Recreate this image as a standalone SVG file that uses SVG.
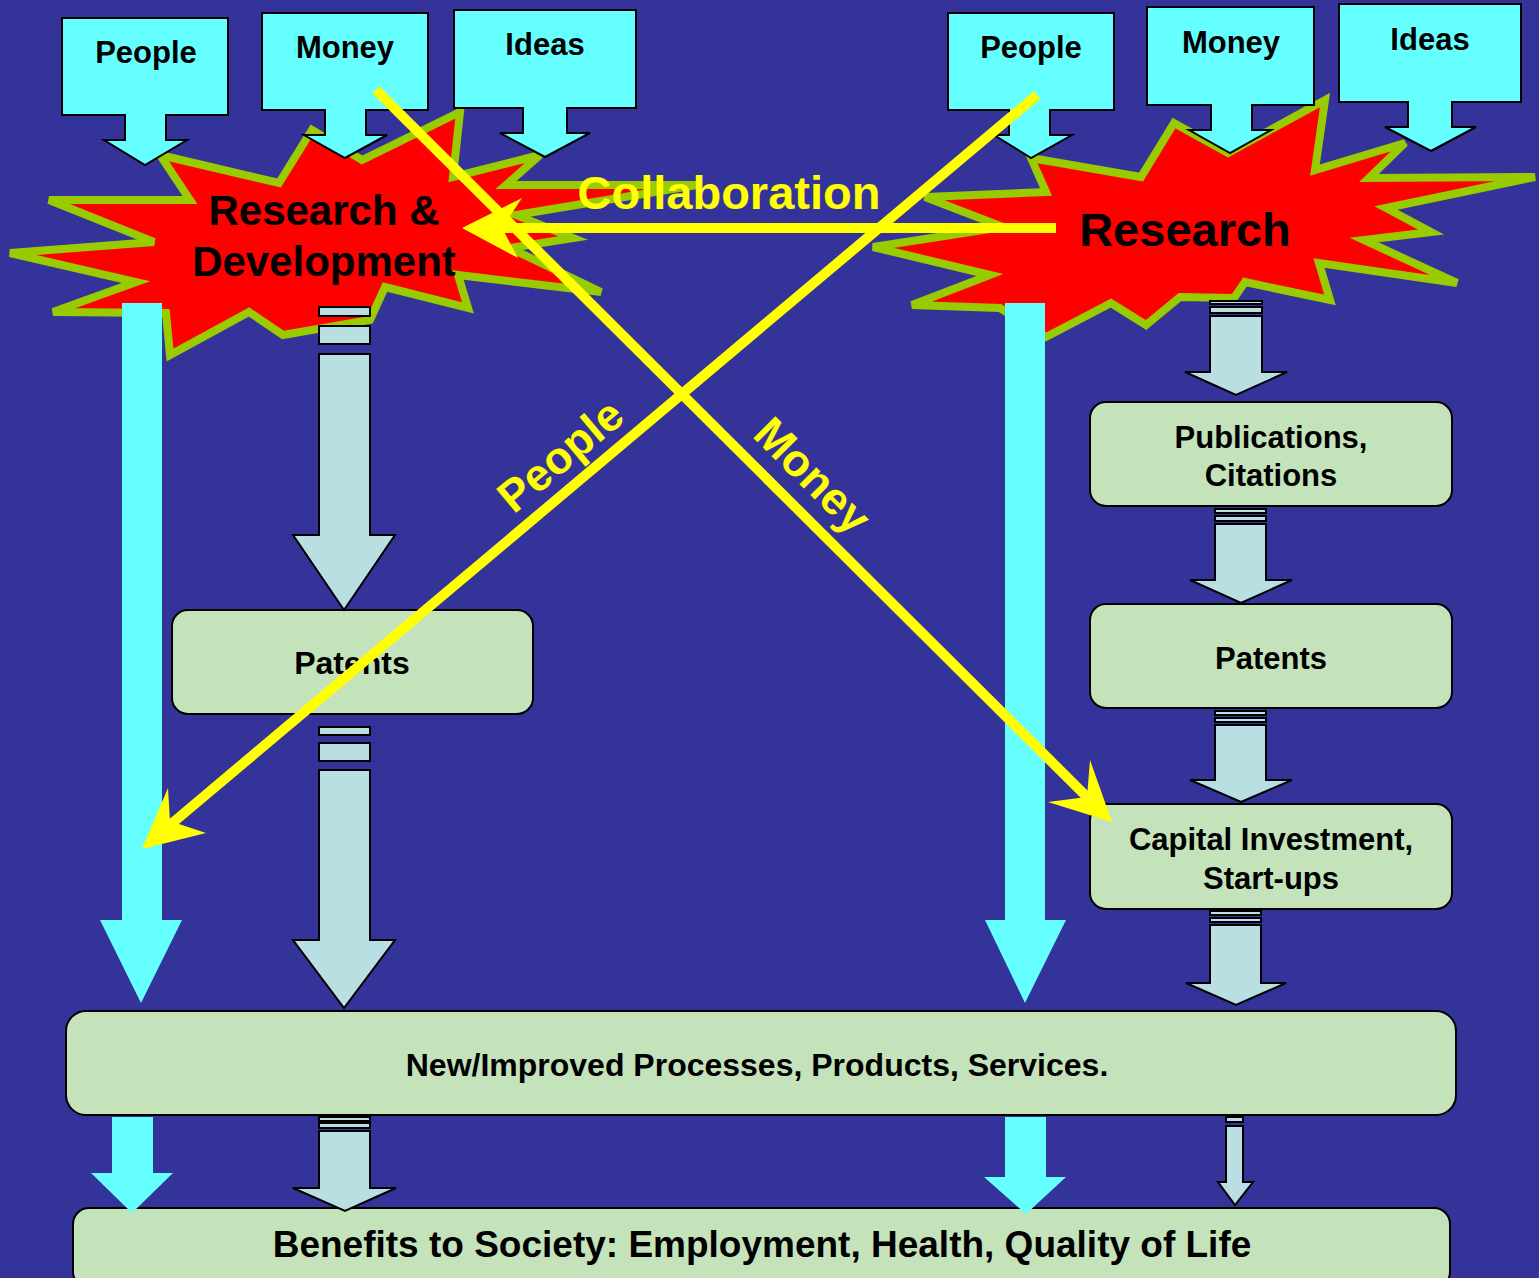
<svg xmlns="http://www.w3.org/2000/svg" width="1539" height="1278" viewBox="0 0 1539 1278">
<defs>
<style>
.bg{fill:#333399}
.inp{fill:#66FFFF;stroke:#000;stroke-width:2}
.star{fill:#FF0000;stroke:#99CC00;stroke-width:8;stroke-linejoin:miter}
.cy{fill:#66FFFF}
.sa{fill:#B9DFE2;stroke:#000;stroke-width:2}
.box{fill:#C4E3BB;stroke:#000;stroke-width:2}
.yl{stroke:#FFFF00;stroke-width:10;fill:none}
.yh{fill:#FFFF00}
text{font-family:"Liberation Sans",Arial,sans-serif;font-weight:bold;text-anchor:middle}
.t32{font-size:32px;fill:#000}
.t30{font-size:31px;fill:#000}
.ty{fill:#FFFF00}
</style>
</defs>
<rect class="bg" x="0" y="0" width="1539" height="1278"/>

<g id="star-rd">
<polygon class="star" points="160,155 279,183 312,130 362,160 460,112 453,177 540,155 506,185 697,185 516,215 573,238 510,248 601,292 458,275 468,308 385,287 370,320 283,335 249,312 170,355 166,313 53,312 136,282 10,253 154,242 49,200 190,200"/>
</g>
<g id="star-research">
<polygon class="star" points="1031,158 1141,177 1174,123 1228,153 1325,100 1315,170 1405,143 1369,178 1535,177 1386,208 1431,232 1364,240 1457,283 1319,263 1330,300 1245,282 1234,298 1180,297 1146,325 1111,303 1046,337 1000,308 912,305 990,275 873,247 1003,227 925,197 1046,192"/>
</g>

<g id="in-people-l"><path class="inp" d="M62,18H228V115H166V140H187L145,165L104,140H125V115H62Z"/><text class="t30" x="146" y="63">People</text></g>
<g id="in-money-l"><path class="inp" d="M262,13H428V110H366V135H387L345,158L304,135H325V110H262Z"/><text class="t30" x="345" y="58">Money</text></g>
<g id="in-ideas-l"><path class="inp" d="M454,10H636V108H567V133H590L545,157L500,133H523V108H454Z"/><text class="t30" x="545" y="55">Ideas</text></g>
<g id="in-people-r"><path class="inp" d="M948,13H1114V110H1050V135H1072L1031,158L994,135H1009V110H948Z"/><text class="t30" x="1031" y="58">People</text></g>
<g id="in-money-r"><path class="inp" d="M1147,7H1314V105H1252V130H1271L1230,153L1189,130H1211V105H1147Z"/><text class="t30" x="1231" y="53">Money</text></g>
<g id="in-ideas-r"><path class="inp" d="M1339,4H1521V102H1452V127H1476L1431,151L1385,127H1408V102H1339Z"/><text class="t30" x="1430" y="50">Ideas</text></g>

<g id="rd-label"><text class="t32" style="font-size:42px" x="324" y="225">Research &amp;</text><text class="t32" style="font-size:42px" x="324" y="276">Development</text></g>
<g id="research-label"><text class="t32" style="font-size:47px" x="1185" y="246">Research</text></g>

<g id="boxes">
<g id="patents-l"><rect class="box" x="172" y="610" width="361" height="104" rx="16"/><text class="t32" x="352" y="674">Patents</text></g>
<g id="publications"><rect class="box" x="1090" y="402" width="362" height="104" rx="16"/><text class="t30" x="1271" y="448">Publications,</text><text class="t30" x="1271" y="486">Citations</text></g>
<g id="patents-r"><rect class="box" x="1090" y="604" width="362" height="104" rx="16"/><text class="t30" x="1271" y="669">Patents</text></g>
<g id="capital"><rect class="box" x="1090" y="804" width="362" height="105" rx="16"/><text class="t30" x="1271" y="850">Capital Investment,</text><text class="t30" x="1271" y="889">Start-ups</text></g>
<g id="new-improved"><rect class="box" x="66" y="1011" width="1390" height="104" rx="20"/><text class="t30" style="font-size:32px" x="757" y="1076">New/Improved Processes, Products, Services.</text></g>
<g id="benefits"><rect class="box" x="73" y="1208" width="1377" height="80" rx="16"/><text class="t32" style="font-size:37px" x="762" y="1257">Benefits to Society: Employment, Health, Quality of Life</text></g>
</g>

<g id="connectors">
<path class="cy" d="M122,303H162V920H182L141,1003L100,920H122Z"/>
<path class="cy" d="M1005,303H1045V920H1066L1025,1003L985,920H1005Z"/>
<path class="cy" d="M112,1117H153V1173H173L132,1213L91,1173H112Z"/>
<path class="cy" d="M1005,1117H1046V1177H1066L1026,1214L984,1177H1005Z"/>

<rect class="sa" x="319" y="307" width="51" height="9"/>
<rect class="sa" x="319" y="326" width="51" height="18"/>
<path class="sa" d="M319,354H370V535H395L344,610L293,535H319Z"/>

<rect class="sa" x="319" y="727" width="51" height="8"/>
<rect class="sa" x="319" y="743" width="51" height="18"/>
<path class="sa" d="M319,770H370V940H395L344,1008L293,940H319Z"/>

<rect class="sa" x="319" y="1117" width="51" height="4"/>
<rect class="sa" x="319" y="1123" width="51" height="5"/>
<path class="sa" d="M319,1131H370V1188H396L345,1211L293,1188H319Z"/>

<rect class="sa" x="1210" y="301" width="52" height="3"/>
<rect class="sa" x="1210" y="307" width="52" height="6"/>
<path class="sa" d="M1210,316H1262V372H1287L1236,395L1185,372H1210Z"/>

<rect class="sa" x="1215" y="509" width="51" height="4"/>
<rect class="sa" x="1215" y="516" width="51" height="5"/>
<path class="sa" d="M1215,524H1266V580H1292L1241,603L1190,580H1215Z"/>

<rect class="sa" x="1215" y="711" width="51" height="4"/>
<rect class="sa" x="1215" y="718" width="51" height="4"/>
<path class="sa" d="M1215,725H1266V780H1292L1241,802L1190,780H1215Z"/>

<rect class="sa" x="1210" y="911" width="51" height="4"/>
<rect class="sa" x="1210" y="918" width="51" height="4"/>
<path class="sa" d="M1210,925H1261V983H1286L1236,1005L1186,983H1210Z"/>

<rect class="sa" x="1226" y="1117" width="17" height="5"/>
<path class="sa" d="M1226,1126H1243V1182H1253L1235,1205L1218,1182H1226Z"/>

<line class="yl" x1="1056" y1="228" x2="500" y2="228"/>
<polygon class="yh" points="462,228 522,198 502,228 518,258"/>
<line class="yl" x1="376" y1="90" x2="1088" y2="798"/>
<polygon class="yh" points="1112,822 1090,760 1087,797 1048,802"/>
<line class="yl" x1="1037" y1="95" x2="170" y2="825"/>
<polygon class="yh" points="142,849 168,788 170,821 206,833"/>
</g>

<g id="labels">
<text class="ty" style="font-size:47px" x="729" y="209">Collaboration</text>
<text class="ty" style="font-size:45px" transform="translate(560,455) rotate(-40)" y="16">People</text>
<text class="ty" style="font-size:45px" transform="translate(813,475) rotate(45)" y="16">Money</text>
</g>
</svg>
